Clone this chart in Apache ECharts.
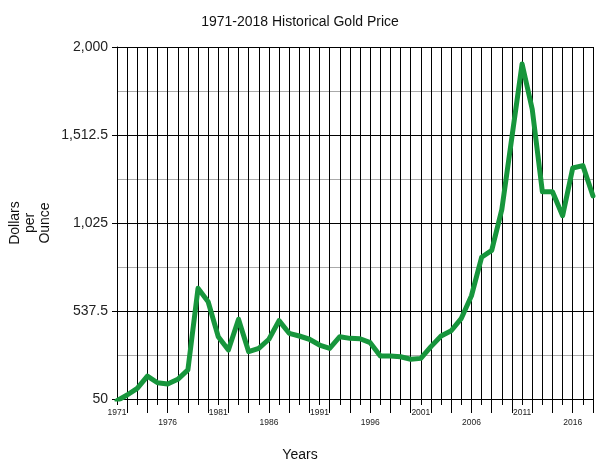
<!DOCTYPE html>
<html>
<head>
<meta charset="utf-8">
<script src="https://cdn.jsdelivr.net/npm/echarts@6/dist/echarts.min.js"></script>
<style>
html,body{margin:0;padding:0;background:#fff;}
#main{width:600px;height:463px;}
</style>
</head>
<body>
<div id="main"></div>
<script>
var years = ['1971','1972','1973','1974','1975','1976','1977','1978','1979','1980',
  '1981','1982','1983','1984','1985','1986','1987','1988','1989','1990',
  '1991','1992','1993','1994','1995','1996','1997','1998','1999','2000',
  '2001','2002','2003','2004','2005','2006','2007','2008','2009','2010',
  '2011','2012','2013','2014','2015','2016','2017','2018'];
var goldPrice = [41,72,109,177,140,133,159,211,663,589,
  395,321,492,312,331,381,484,414,399,381,
  349,331,395,386,384,362,288,288,284,270,
  275,340,399,428,497,622,835,873,1100,1503,
  1906,1655,1198,1198,1065,1330,1343,1175];
var yTicks = [50, 537.5, 1025, 1512.5, 2000];

var chart = echarts.init(document.getElementById('main'));
var font = 'Liberation Sans, Arial, sans-serif';
chart.setOption({
  backgroundColor: '#fff',
  animation: false,
  title: [
    {text: '1971-2018 Historical Gold Price', left: 'center', top: 10,
     textStyle: {fontFamily: font, fontSize: 14, fontWeight: 'normal', color: '#111'}},
    {text: 'Years', left: 'center', top: 443,
     textStyle: {fontFamily: font, fontSize: 14, fontWeight: 'normal', color: '#111'}}
  ],
  grid: {left: 117, right: 7, top: 47, bottom: 64, containLabel: false, outerBoundsMode: 'none'},
  xAxis: [
    {
      type: 'category', data: years, boundaryGap: false, position: 'bottom',
      axisLine: {show: true, lineStyle: {color: '#000', width: 1}},
      axisTick: {show: true, interval: 0, length: 6, lineStyle: {color: '#000', width: 1}},
      axisLabel: {
        interval: 4, margin: 9, fontFamily: font, fontSize: 8.5, color: '#222', lineHeight: 10,
        formatter: function (v, i) { return (i % 10 === 0) ? v : '\n' + v; }
      },
      splitLine: {show: true, interval: 0, lineStyle: {color: '#000', width: 1}}
    },
    {
      type: 'category', data: years, boundaryGap: false, position: 'bottom',
      axisLine: {show: false},
      axisTick: {show: true, length: 14, lineStyle: {color: '#000', width: 1},
        interval: function (i, v) { return (parseInt(v, 10) % 2) === 0; }},
      axisLabel: {show: false},
      splitLine: {show: false}
    }
  ],
  yAxis: {
    type: 'value', min: yTicks[0], max: yTicks[yTicks.length - 1], interval: 487.5,
    axisLine: {show: true, lineStyle: {color: '#000', width: 1}},
    axisTick: {show: true, length: 5, lineStyle: {color: '#000', width: 1}},
    axisLabel: {
      margin: 9, fontFamily: font, fontSize: 14, color: '#222',
      formatter: function (v) { return v.toLocaleString('en-US', {maximumFractionDigits: 1}); }
    },
    splitLine: {show: true, lineStyle: {color: '#000', width: 1}},
    minorTick: {show: false, splitNumber: 2},
    minorSplitLine: {show: true, lineStyle: {color: '#aaa', width: 1}},
    name: 'Dollars\nper\nOunce', nameLocation: 'middle', nameGap: 64, nameRotate: 90,
    nameMoveOverlap: false,
    nameTextStyle: {fontFamily: font, fontSize: 14, color: '#111', lineHeight: 15}
  },
  series: [{
    type: 'line', data: goldPrice, xAxisIndex: 0, showSymbol: false, symbol: 'none',
    lineStyle: {color: '#17963c', width: 5, join: 'round', cap: 'round'},
    itemStyle: {color: '#17963c'}, z: 5
  }]
});
</script>
</body>
</html>
